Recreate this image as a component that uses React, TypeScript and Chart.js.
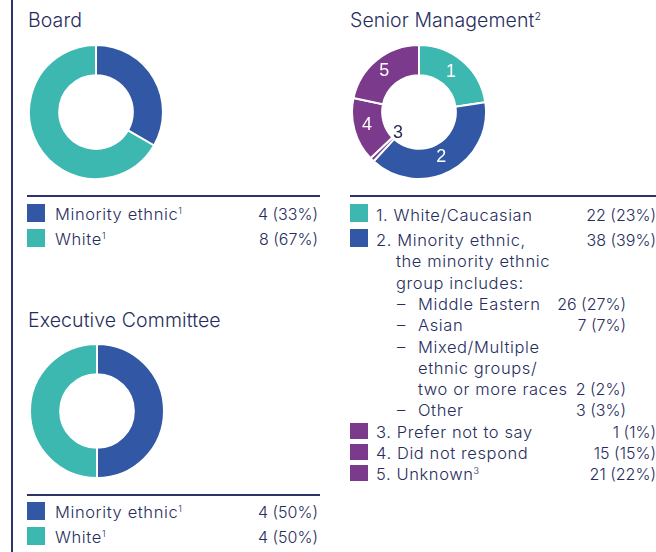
import React, { useEffect, useRef } from 'react';
import Chart from 'chart.js/auto';

const NAVY = '#272d5d';
const RULE = '#2b3468';
const BLUE = '#3157a5';
const TEAL = '#3cb8b0';
const PURPLE = '#7b3a8c';
const FONT = "Inter, 'Open Sans', sans-serif";

const boardCategories = ['Minority ethnic', 'White'];
const boardValues = [4, 8];
const boardShares = ['33%', '67%'];
const boardColors = [BLUE, TEAL];

const execCategories = ['Minority ethnic', 'White'];
const execValues = [4, 4];
const execShares = ['50%', '50%'];
const execColors = [BLUE, TEAL];

const seniorCategories = ['White/Caucasian', 'Minority ethnic,', 'Prefer not to say', 'Did not respond', 'Unknown'];
const seniorValues = [22, 38, 1, 15, 21];
const seniorShares = ['23%', '39%', '1%', '15%', '22%'];
const seniorColors = [TEAL, BLUE, PURPLE, PURPLE, PURPLE];

const subCategories = ['Middle Eastern', 'Asian', 'Mixed/Multiple', 'Other'];
const subValues = [26, 7, 2, 3];
const subShares = ['27%', '7%', '2%', '3%'];

const segmentNumbers = {
  id: 'segmentNumbers',
  afterDatasetsDraw(chart: any, _args: any, opts: any) {
    if (!opts || !opts.show) return;
    const ctx = chart.ctx;
    const meta = chart.getDatasetMeta(0);
    ctx.save();
    ctx.font = '18px "Liberation Sans", Arial, sans-serif';
    ctx.textAlign = 'center';
    ctx.textBaseline = 'middle';
    meta.data.forEach((arc: any, i: number) => {
      const label = String(i + 1);
      if (i === opts.insideIndex) {
        const p = arc.getProps(['x', 'y', 'startAngle', 'endAngle', 'innerRadius'], true);
        const a = (p.startAngle + p.endAngle) / 2;
        const r = p.innerRadius - 7;
        ctx.fillStyle = NAVY;
        ctx.fillText(label, p.x + Math.cos(a) * r, p.y + Math.sin(a) * r);
      } else {
        const pos = arc.tooltipPosition(true);
        ctx.fillStyle = '#ffffff';
        ctx.fillText(label, pos.x - 2, pos.y - 1);
      }
    });
    ctx.restore();
  },
};

function Donut({ labels, values, colors, left, top, numbered }: any) {
  const ref = useRef<HTMLCanvasElement>(null);
  useEffect(() => {
    const chart = new Chart(ref.current as HTMLCanvasElement, {
      type: 'doughnut',
      data: {
        labels,
        datasets: [
          {
            data: values,
            backgroundColor: colors,
            borderColor: '#ffffff',
            borderWidth: 2,
            hoverOffset: 0,
          },
        ],
      },
      options: {
        responsive: false,
        animation: false,
        cutout: '55%',
        events: [],
        plugins: {
          legend: { display: false },
          tooltip: { enabled: false },
          segmentNumbers: { show: !!numbered, insideIndex: 2 },
        } as any,
      },
      plugins: numbered ? [segmentNumbers as any] : [],
    });
    return () => chart.destroy();
  }, []);
  return <canvas ref={ref} width={136} height={136} style={{ position: 'absolute', left, top }} />;
}

const Sup = ({ c }: { c: string }) => (
  <span style={{ fontSize: '0.55em', verticalAlign: 'super', lineHeight: 0, letterSpacing: 0 }}>{c}</span>
);

function Txt({ x, y, right, size = 16.5, ls = 0.6, weight = 300, children }: any) {
  const style: any = {
    position: 'absolute',
    top: y - 12,
    height: 24,
    lineHeight: '24px',
    fontSize: size,
    letterSpacing: ls,
    whiteSpace: 'nowrap',
    color: NAVY,
    fontFamily: FONT,
    fontWeight: weight,
  };
  if (right !== undefined) style.right = 656 - right;
  else style.left = x;
  return <div style={style}>{children}</div>;
}

const Num = ({ right, y, children }: any) => (
  <Txt right={right} y={y} size={16} ls={0}>
    {children}
  </Txt>
);

const Title = ({ x, y, children }: any) => (
  <Txt x={x} y={y} size={19.5} ls={0.1}>
    {children}
  </Txt>
);

const Box = ({ x, y, w = 18, h = 18, color }: any) => (
  <div style={{ position: 'absolute', left: x, top: y, width: w, height: h, background: color }} />
);

const Rule = ({ x, y, w }: any) => (
  <div style={{ position: 'absolute', left: x, top: y, width: w, height: 2, background: RULE }} />
);

function TwoRowLegend({ cats, vals, shares, colors, top }: any) {
  return (
    <>
      {cats.map((c: string, i: number) => (
        <React.Fragment key={c}>
          <Box x={27} y={top + i * 25} color={colors[i]} />
          <Txt x={55} y={top + 10 + i * 25}>
            {c}
            <Sup c="1" />
          </Txt>
          <Num right={318} y={top + 10 + i * 25}>
            {vals[i]} ({shares[i]})
          </Num>
        </React.Fragment>
      ))}
    </>
  );
}

export default function App() {
  const L = 21.3;
  const y2 = 240;
  return (
    <div style={{ position: 'absolute', left: 0, top: 0, width: 656, height: 552, background: '#fff', overflow: 'hidden' }}>
      <div style={{ position: 'absolute', left: 11, top: 0, width: 2, height: 552, background: RULE }} />

      {/* Board */}
      <Title x={28} y={20}>Board</Title>
      <Donut labels={boardCategories} values={boardValues} colors={boardColors} left={28} top={44} />
      <Rule x={27} y={195} w={293} />
      <TwoRowLegend cats={boardCategories} vals={boardValues} shares={boardShares} colors={boardColors} top={204} />

      {/* Executive Committee */}
      <Title x={28} y={320}>Executive Committee</Title>
      <Donut labels={execCategories} values={execValues} colors={execColors} left={29} top={343} />
      <Rule x={27} y={494} w={293} />
      <TwoRowLegend cats={execCategories} vals={execValues} shares={execShares} colors={execColors} top={502} />

      {/* Senior Management */}
      <Title x={350} y={20}>
        Senior Management
        <Sup c="2" />
      </Title>
      <Donut labels={seniorCategories} values={seniorValues} colors={seniorColors} left={351} top={44} numbered />
      <Rule x={350} y={195} w={306} />

      <Box x={350} y={204} color={seniorColors[0]} />
      <Txt x={376} y={215}>1. {seniorCategories[0]}</Txt>
      <Num right={656} y={215}>{seniorValues[0]} ({seniorShares[0]})</Num>

      <Box x={350} y={229} color={seniorColors[1]} />
      <Txt x={376} y={y2}>2. {seniorCategories[1]}</Txt>
      <Num right={656} y={y2}>{seniorValues[1]} ({seniorShares[1]})</Num>
      <Txt x={396} y={y2 + L}>the minority ethnic</Txt>
      <Txt x={396} y={y2 + 2 * L}>group includes:</Txt>

      <Txt x={397} y={y2 + 3 * L}>–</Txt>
      <Txt x={418} y={y2 + 3 * L}>{subCategories[0]}</Txt>
      <Num right={626} y={y2 + 3 * L}>{subValues[0]} ({subShares[0]})</Num>

      <Txt x={397} y={y2 + 4 * L}>–</Txt>
      <Txt x={418} y={y2 + 4 * L}>{subCategories[1]}</Txt>
      <Num right={626} y={y2 + 4 * L}>{subValues[1]} ({subShares[1]})</Num>

      <Txt x={397} y={y2 + 5 * L}>–</Txt>
      <Txt x={418} y={y2 + 5 * L}>{subCategories[2]}</Txt>
      <Txt x={418} y={y2 + 6 * L}>ethnic groups/</Txt>
      <Txt x={418} y={y2 + 7 * L}>two or more races</Txt>
      <Num right={626} y={y2 + 7 * L}>{subValues[2]} ({subShares[2]})</Num>

      <Txt x={397} y={y2 + 8 * L}>–</Txt>
      <Txt x={418} y={y2 + 8 * L}>{subCategories[3]}</Txt>
      <Num right={626} y={y2 + 8 * L}>{subValues[3]} ({subShares[3]})</Num>

      {[2, 3, 4].map((i, k) => {
        const cy = y2 + (9 + k) * L;
        return (
          <React.Fragment key={i}>
            <Box x={350} y={cy - 9} h={16} color={seniorColors[i]} />
            <Txt x={376} y={cy}>
              {i + 1}. {seniorCategories[i]}
              {i === 4 ? <Sup c="3" /> : null}
            </Txt>
            <Num right={656} y={cy}>
              {seniorValues[i]} ({seniorShares[i]})
            </Num>
          </React.Fragment>
        );
      })}
    </div>
  );
}
